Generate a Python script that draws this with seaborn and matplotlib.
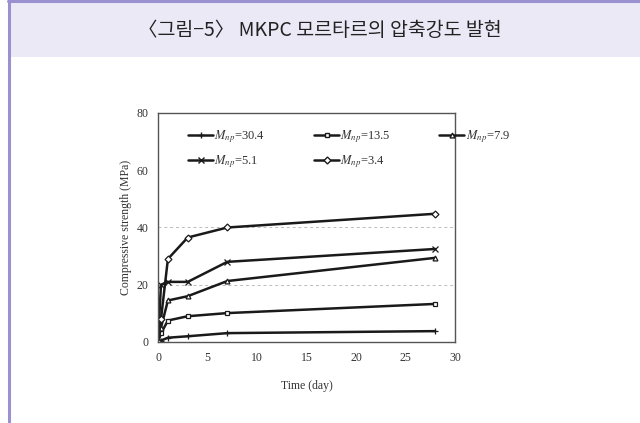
import matplotlib.pyplot as plt
import seaborn as sns
import pandas as pd
from matplotlib.patches import Rectangle
from matplotlib.lines import Line2D

# ── Data ─────────────────────────────────────────────────
days = [0, 0.3, 1, 3, 7, 28]
labels = ['30.4', '13.5', '7.9', '5.1', '3.4']
s_304 = [0, 0.5, 1.5, 2.0, 3.1, 3.8]
s_135 = [0, 3.0, 7.5, 9.0, 10.1, 13.3]
s_79 = [0, 5.0, 14.5, 16.0, 21.3, 29.4]
s_51 = [0, 20.0, 21.0, 21.0, 28.0, 32.5]
s_34 = [0, 8.0, 29.0, 36.5, 40.0, 44.8]
grid_levels = [20, 40]

series = [s_304, s_135, s_79, s_51, s_34]
markers = ['+', 's', '^', 'x', 'D']
sizes = [5, 3.5, 3.5, 4, 3.5]

df = pd.DataFrame({'Time': days * len(labels),
                   'Strength': sum(series, []),
                   'Mnp': [l for l in labels for _ in days]})

sns.set_theme(style='white')
plt.rcParams['font.family'] = ['Liberation Serif', 'DejaVu Serif']
plt.rcParams['mathtext.fontset'] = 'stix'

fig = plt.figure(figsize=(6.4, 4.23), dpi=100)
fig.patch.set_facecolor('white')

# header band and frame lines
fig.patches.append(Rectangle((8 / 640, 1 - 57 / 423), 1, 57 / 423,
                             transform=fig.transFigure, facecolor='#ebe9f6',
                             edgecolor='none', zorder=0))
fig.lines.append(Line2D([8 / 640, 1], [1 - 1.5 / 423] * 2, transform=fig.transFigure,
                        color='#9a92d0', linewidth=2.2))
fig.lines.append(Line2D([9 / 640] * 2, [0, 1], transform=fig.transFigure,
                        color='#9a92d0', linewidth=2.2))
fig.text(0.5, 1 - 30 / 423, '〈그림−5〉 MKPC 모르타르의 압축강도 발현', ha='center', va='center',
         fontsize=14, family=['Noto Sans CJK KR', 'DejaVu Sans'], color='#222222')

ax = fig.add_axes([158 / 640, 1 - 342 / 423, 297 / 640, 229 / 423])

for lvl in grid_levels:
    ax.axhline(lvl, color='#bbbbbb', linestyle=(0, (3, 3)), linewidth=0.7, zorder=0)

handles = {}
for lab, mk, ms in zip(labels, markers, sizes):
    sub = df[df['Mnp'] == lab]
    sns.lineplot(data=sub, x='Time', y='Strength', ax=ax, color='#1a1a1a',
                 marker=mk, markersize=ms, markerfacecolor='white',
                 markeredgecolor='#1a1a1a', markeredgewidth=0.9,
                 linewidth=1.8, legend=False)
    handles[lab] = Line2D([], [], color='#1a1a1a', marker=mk, markersize=ms,
                          markerfacecolor='white', markeredgecolor='#1a1a1a',
                          linewidth=1.8, label=r'$M_{np}$=' + lab)

ax.set_xlim(0, 30)
ax.set_ylim(0, 80)
ax.set_xticks(range(0, 31, 5))
ax.set_yticks(range(0, 81, 20))
ax.tick_params(direction='in', length=3, labelsize=8.5, colors='#333333', pad=7)
for sp in ax.spines.values():
    sp.set_color('#555555')
    sp.set_linewidth(1.0)
ax.set_xlabel('Time (day)', fontsize=8.5, color='#333333', labelpad=12)
ax.set_ylabel('Compressive strength (MPa)', fontsize=8.5, color='#333333', labelpad=3)

# column-first fill -> rows: 30.4 13.5 7.9 / 5.1 3.4
order = ['30.4', '5.1', '13.5', '3.4', '7.9']
leg = ax.legend(handles=[handles[k] for k in order], ncol=3, frameon=False,
                loc='upper left', bbox_to_anchor=(0.085, 0.955), fontsize=9,
                handlelength=2.0, handletextpad=0.1, columnspacing=3.9,
                labelspacing=0.65, borderaxespad=0)
plt.setp(leg.get_texts(), color='#333333')

plt.savefig('out.png', dpi=100)
